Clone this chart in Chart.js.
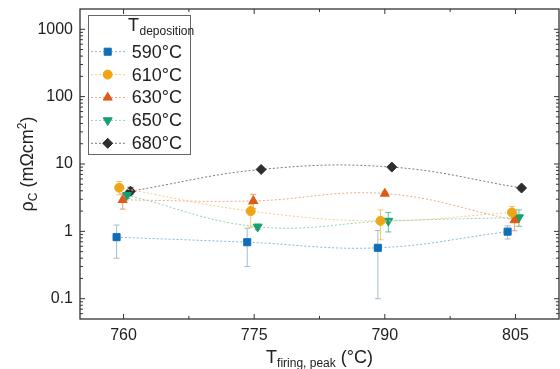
<!DOCTYPE html>
<html>
<head>
<meta charset="utf-8">
<script src="https://cdn.jsdelivr.net/npm/chart.js@4.4.1/dist/chart.umd.min.js"></script>
<style>
  body { margin: 0; background: #fff; }
  #wrap { width: 560px; height: 369px; }
</style>
</head>
<body>
<div id="wrap"><canvas id="chart" width="560" height="369"></canvas></div>
<script>
// legend entries (deposition temperature)
const depositionLabels = ['590°C', '610°C', '630°C', '650°C', '680°C'];

// measured peak firing temperature of each point (°C), one row per deposition temp
const firingT = [
    [759.2, 774.2, 789.2, 804.1],
    [759.5, 774.6, 789.5, 804.6],
    [759.9, 774.9, 790.0, 804.9],
    [760.4, 775.4, 790.4, 805.4],
    [760.8, 775.8, 790.8, 805.7]
];

// contact resistivity (mOhm cm^2)
const rhoC = [
    [0.82, 0.69, 0.57, 0.99],
    [4.45, 2.00, 1.43, 1.91],
    [2.93, 2.83, 3.64, 1.47],
    [3.44, 1.17, 1.43, 1.61],
    [3.94, 8.30, 9.00, 4.40]
];

// error bar limits
const rhoLow = [
    [0.40, 0.30, 0.10, 0.77],
    [3.50, 1.15, 0.75, 1.55],
    [2.14, 2.20, 3.45, 1.02],
    [3.10, 1.06, 0.98, 1.19],
    [3.50, 7.80, 8.50, 4.10]
];
const rhoHigh = [
    [1.24, 1.11, 1.03, 1.21],
    [5.50, 2.50, 2.08, 2.34],
    [3.60, 3.55, 3.85, 1.90],
    [3.80, 1.28, 1.91, 2.08],
    [4.50, 8.80, 9.50, 4.70]
];

const xTickValues = [760, 775, 790, 805];
const xMinorTicks = [767.5, 782.5, 797.5];
const yTickValues = [0.1, 1, 10, 100, 1000];

// styles
const FONT = "'Liberation Sans', Arial, sans-serif";
const markerColors = ['#0f6fb6', '#efa514', '#df5a17', '#16a06f', '#2e2e2e'];
const lineColors = ['#86b6dc', '#f4cf86', '#f1a986', '#8ed4b4', '#7a7a7a'];
const errColors = ['#a9bccc', '#f3c76e', '#ec9b74', '#5fc49c', '#555555'];
const pointStyles = ['rect', 'circle', 'triangle', 'triangle', 'rectRot'];
const pointRotations = [0, 0, 0, 180, 0];
const pointSizes = [5, 4.5, 5.2, 5.2, 5];

/**
 * Error bars drawn under the markers
 */
const errorBars = {
    id: 'errorBars',
    beforeDatasetsDraw(chart) {
        const ctx = chart.ctx;
        const xs = chart.scales.x;
        const ys = chart.scales.y;
        ctx.save();
        ctx.lineWidth = 1;
        firingT.forEach((row, i) => {
            ctx.strokeStyle = errColors[i];
            row.forEach((t, j) => {
                const px = xs.getPixelForValue(t);
                const lo = ys.getPixelForValue(rhoLow[i][j]);
                const hi = ys.getPixelForValue(rhoHigh[i][j]);
                ctx.beginPath();
                ctx.moveTo(px, lo);
                ctx.lineTo(px, hi);
                ctx.moveTo(px - 3, lo);
                ctx.lineTo(px + 3, lo);
                ctx.moveTo(px - 3, hi);
                ctx.lineTo(px + 3, hi);
                ctx.stroke();
            });
        });
        ctx.restore();
    }
};

/**
 * Box frame with inward ticks on all four sides
 */
const frame = {
    id: 'frame',
    afterDraw(chart) {
        const ctx = chart.ctx;
        const { left, right, top, bottom } = chart.chartArea;
        const xs = chart.scales.x;
        const ys = chart.scales.y;
        ctx.save();
        ctx.strokeStyle = '#333';
        ctx.lineWidth = 1.3;
        ctx.strokeRect(left, top, right - left, bottom - top);

        ctx.lineWidth = 1;
        ctx.beginPath();
        const xTick = (v, len) => {
            const px = xs.getPixelForValue(v);
            ctx.moveTo(px, bottom);
            ctx.lineTo(px, bottom - len);
            ctx.moveTo(px, top);
            ctx.lineTo(px, top + len);
        };
        xTickValues.forEach(v => xTick(v, 5));
        xMinorTicks.forEach(v => xTick(v, 3));

        for (let d = 0.01; d <= 1000; d *= 10) {
            for (let k = 1; k <= 9; k++) {
                const v = k * d;
                if (v <= ys.min * 1.001 || v >= ys.max * 0.999) continue;
                const py = ys.getPixelForValue(v);
                const len = k === 1 ? 5 : 3;
                ctx.moveTo(left, py);
                ctx.lineTo(left + len, py);
                ctx.moveTo(right, py);
                ctx.lineTo(right - len, py);
            }
        }
        ctx.stroke();
        ctx.restore();
    }
};

/**
 * Axis titles and legend (need sub/superscripts)
 */
const annotations = {
    id: 'annotations',
    afterDraw(chart) {
        const ctx = chart.ctx;
        const { left, right, top, bottom } = chart.chartArea;
        ctx.save();
        ctx.fillStyle = '#222';
        ctx.textBaseline = 'alphabetic';
        ctx.textAlign = 'left';

        // x title: T_firing, peak (°C)
        const big = '18px ' + FONT;
        const small = '12px ' + FONT;
        ctx.font = big;
        const wT = ctx.measureText('T').width;
        const wTail = ctx.measureText(' (°C)').width;
        ctx.font = small;
        const wSub = ctx.measureText('firing, peak').width;
        let x = (left + right) / 2 - (wT + wSub + wTail) / 2;
        const base = 363;
        ctx.font = big;
        ctx.fillText('T', x, base);
        x += wT;
        ctx.font = small;
        ctx.fillText('firing, peak', x, base + 4);
        x += wSub;
        ctx.font = big;
        ctx.fillText(' (°C)', x, base);

        // y title: rho_C (mOhm cm^2)
        ctx.save();
        ctx.translate(33, (top + bottom) / 2);
        ctx.rotate(-Math.PI / 2);
        ctx.font = big;
        const wRho = ctx.measureText('ρ').width;
        const wMid = ctx.measureText(' (mΩcm').width;
        const wEnd = ctx.measureText(')').width;
        ctx.font = small;
        const wC = ctx.measureText('C').width;
        const w2 = ctx.measureText('2').width;
        let y = -(wRho + wC + wMid + w2 + wEnd) / 2;
        ctx.font = big;
        ctx.fillText('ρ', y, 0);
        y += wRho;
        ctx.font = small;
        ctx.fillText('C', y, 4);
        y += wC;
        ctx.font = big;
        ctx.fillText(' (mΩcm', y, 0);
        y += wMid;
        ctx.font = small;
        ctx.fillText('2', y, -7);
        y += w2;
        ctx.font = big;
        ctx.fillText(')', y, 0);
        ctx.restore();

        // legend box
        ctx.fillStyle = '#fff';
        ctx.fillRect(88.5, 15.5, 102, 139);
        ctx.strokeStyle = '#666';
        ctx.lineWidth = 1;
        ctx.strokeRect(88.5, 15.5, 102, 139);

        ctx.fillStyle = '#222';
        ctx.font = big;
        ctx.fillText('T', 128, 31);
        ctx.font = small;
        ctx.fillText('deposition', 139.5, 35);

        depositionLabels.forEach((label, i) => {
            const ry = 51.7 + i * 22.9;
            ctx.save();
            ctx.strokeStyle = lineColors[i];
            ctx.setLineDash([2, 2]);
            ctx.beginPath();
            ctx.moveTo(91, ry);
            ctx.lineTo(125, ry);
            ctx.stroke();
            ctx.restore();

            ctx.save();
            ctx.fillStyle = markerColors[i];
            ctx.strokeStyle = markerColors[i];
            ctx.lineWidth = 1;
            Chart.helpers.drawPoint(ctx, {
                pointStyle: pointStyles[i],
                rotation: pointRotations[i],
                radius: pointSizes[i],
                borderWidth: 1
            }, 107.7, ry);
            ctx.restore();

            ctx.fillStyle = '#222';
            ctx.font = big;
            ctx.textBaseline = 'middle';
            ctx.fillText(label, 131.7, ry + 1);
            ctx.textBaseline = 'alphabetic';
        });
        ctx.restore();
    }
};

const datasets = depositionLabels.map((label, i) => ({
    label: label,
    data: firingT[i].map((t, j) => ({ x: t, y: rhoC[i][j] })),
    showLine: true,
    tension: 0.4,
    borderColor: lineColors[i],
    borderWidth: 1,
    borderDash: [2, 2],
    pointStyle: pointStyles[i],
    pointRotation: pointRotations[i],
    pointRadius: pointSizes[i],
    pointBackgroundColor: markerColors[i],
    pointBorderColor: markerColors[i],
    pointBorderWidth: 1
}));

// drop the label overflow padding chart.js reserves at axis ends
const noEdgePadding = s => {
    s.paddingTop = 0;
    s.paddingBottom = 0;
    s.paddingLeft = 0;
    s.paddingRight = 0;
};

const ctx = document.getElementById('chart').getContext('2d');
new Chart(ctx, {
    type: 'scatter',
    data: { datasets: datasets },
    options: {
        responsive: false,
        animation: false,
        layout: {
            autoPadding: false,
            padding: { top: 9, right: 1, left: 0, bottom: 0 }
        },
        plugins: {
            legend: { display: false },
            tooltip: { enabled: false }
        },
        scales: {
            x: {
                type: 'linear',
                min: 755,
                max: 810,
                grid: { display: false, drawTicks: false },
                border: { display: false },
                afterBuildTicks: s => { s.ticks = xTickValues.map(v => ({ value: v })); },
                afterFit: s => { s.height = 50; noEdgePadding(s); },
                ticks: {
                    font: { family: FONT, size: 16 },
                    color: '#222',
                    padding: 7,
                    maxRotation: 0,
                    autoSkip: false,
                    callback: v => String(v)
                }
            },
            y: {
                type: 'logarithmic',
                min: 0.05,
                max: 2000,
                grid: { display: false, drawTicks: false },
                border: { display: false },
                afterBuildTicks: s => { s.ticks = yTickValues.map(v => ({ value: v })); },
                afterFit: s => { s.width = 80; noEdgePadding(s); },
                ticks: {
                    font: { family: FONT, size: 16 },
                    color: '#222',
                    padding: 7,
                    autoSkip: false,
                    callback: v => String(v)
                }
            }
        }
    },
    plugins: [errorBars, frame, annotations]
});
</script>
</body>
</html>
